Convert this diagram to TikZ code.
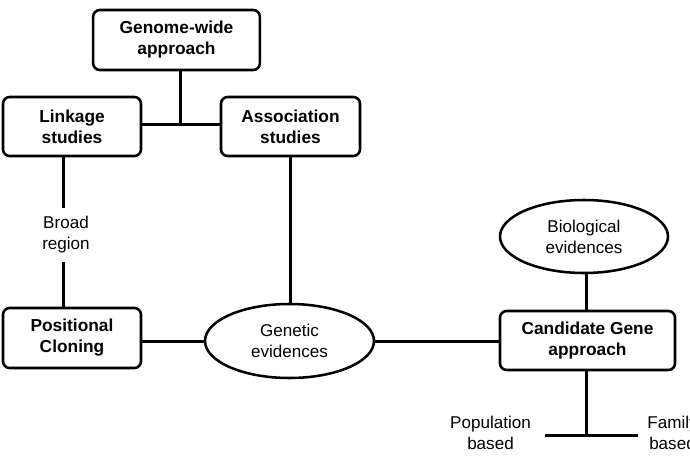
\documentclass[tikz,border=0pt]{standalone}
\usepackage{fontspec}
\setmainfont{Liberation Sans}
\usetikzlibrary{shapes.geometric}
\begin{document}
\begin{tikzpicture}[x=0.75pt,y=-0.75pt,
  boxnode/.style={draw,line width=1.9pt,rounded corners=5pt,align=center,
    font=\fontsize{13}{15.75}\selectfont\bfseries,inner sep=0pt},
  ellnode/.style={draw,ellipse,line width=1.9pt,align=center,
    font=\fontsize{12.8}{15.75}\selectfont,inner sep=0pt},
  plain/.style={align=center,font=\fontsize{12.8}{15.75}\selectfont,inner sep=0pt},
  conn/.style={line width=2.25pt}]
\useasboundingbox (0,0) rectangle (690,464);
\clip (0,0) rectangle (690,464);
\node[boxnode,minimum width=125pt,minimum height=45pt] (gw) at (176.5,40) {Genome-wide\\approach};
\node[boxnode,minimum width=103.5pt,minimum height=44.25pt] (link) at (72,126.5) {Linkage\\studies};
\node[boxnode,minimum width=104.25pt,minimum height=44.25pt] (assoc) at (290.5,126.5) {Association\\studies};
\node[boxnode,minimum width=103.5pt,minimum height=45pt] (pos) at (72,338) {Positional\\Cloning};
\node[ellnode,minimum width=126.75pt,minimum height=55.5pt] (gen) at (289.5,341) {Genetic\\evidences};
\node[boxnode,minimum width=131.25pt,minimum height=44.25pt] (cand) at (587.5,340.5) {Candidate Gene\\approach};
\node[ellnode,minimum width=126pt,minimum height=54.75pt] (bio) at (584,236.5) {Biological\\evidences};
\node[plain,minimum height=40.5pt] (broad) at (66,235) {Broad\\region};
\node[plain] (popb) at (490.5,433) {Population\\based};
\node[plain] (famb) at (672.5,433) {Family\\based};
\coordinate (J) at (180,124);
\coordinate (lx) at (63,0);
\coordinate (B) at (586,435);
\coordinate (BL) at (545,435);
\coordinate (BR) at (638,435);
\draw[conn] (link.east |- J) -- (assoc.west |- J);
\draw[conn] (J |- gw.south) -- (J);
\draw[conn] (lx |- link.south) -- (lx |- broad.north);
\draw[conn] (lx |- broad.south) -- (lx |- pos.north);
\draw[conn] (assoc.south) -- (assoc.south |- gen.north);
\draw[conn] (pos.east |- gen.west) -- (gen.west);
\draw[conn] (gen.east) -- (cand.west |- gen.east);
\draw[conn] (B |- bio.south) -- (B |- cand.north);
\draw[conn] (B |- cand.south) -- (B);
\draw[conn] (BL) -- (BR);
\end{tikzpicture}
\end{document}
